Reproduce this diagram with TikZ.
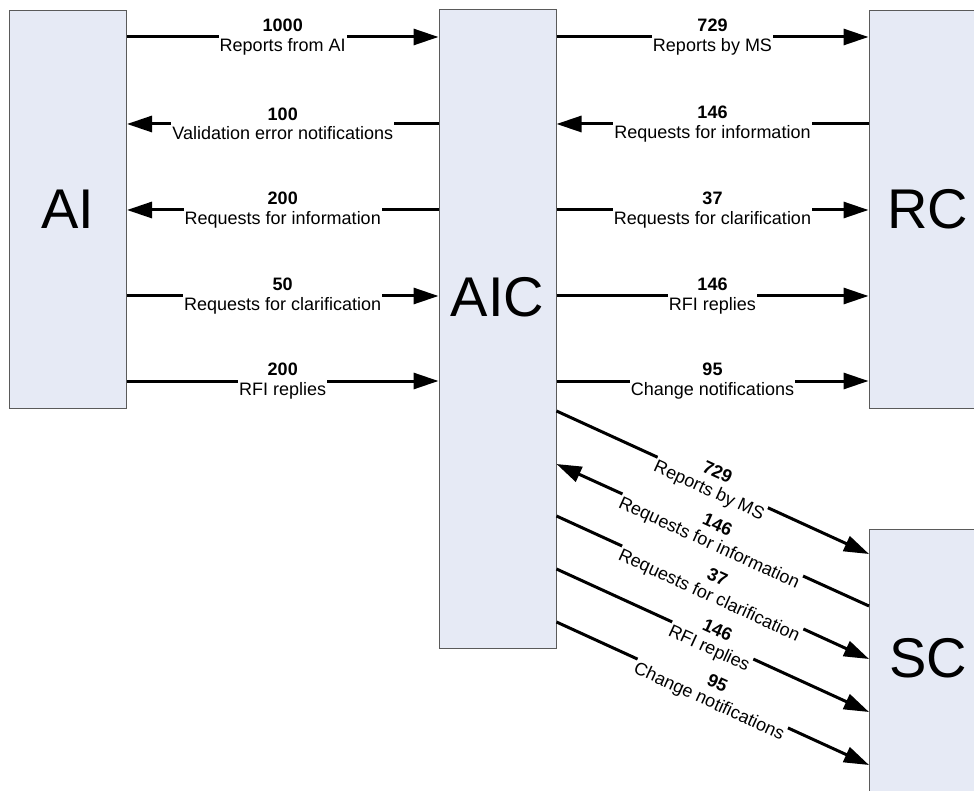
\documentclass[tikz,border=0pt]{standalone}
\usepackage{fontspec}
\setmainfont{Liberation Sans}
\usetikzlibrary{arrows.meta}
\definecolor{boxfill}{RGB}{230,234,245}
\definecolor{boxline}{RGB}{90,90,90}
\begin{document}
\begin{tikzpicture}[x=1pt,y=-1pt,
  box/.style={draw=boxline,fill=boxfill,line width=1pt,inner sep=0pt,minimum width=117pt},
  big/.style={font=\fontsize{56}{60}\selectfont},
  arr/.style={line width=3pt,-{Triangle[length=25pt,width=16pt]}},
  lbl/.style={fill=white,inner xsep=1pt,inner ysep=0pt,align=center,font=\fontsize{18}{19.5}\selectfont}]
\useasboundingbox (0,0) rectangle (974,791);
\node[box,minimum height=398pt] (ai) at (68,209.5) {};
\node[box,minimum height=638pt] (aic) at (497.5,329) {};
\node[box,minimum height=398pt] (rc) at (927.5,209.5) {};
\node[box,minimum height=300pt,anchor=north west] (sc) at (869,529) {};
\node[big] (aitxt) at (ai) {AI};
\node[big] (aictxt) at ([yshift=32pt]aic.center) {AIC};
\node[big] (rctxt) at (rc) {RC};
\node[big] (sctxt) at ([yshift=-129pt]sc.north) {SC};
\foreach \sa/\ya/\ea/\yb/\num/\txt in {
  ai.east/37/aic.west/37/1000/Reports from AI,
  aic.west/124/ai.east/124/100/Validation error notifications,
  aic.west/210/ai.east/210/200/Requests for information,
  ai.east/296/aic.west/296/50/Requests for clarification,
  ai.east/381/aic.west/381/200/RFI replies,
  aic.east/37/rc.west/37/729/Reports by MS,
  rc.west/124/aic.east/124/146/Requests for information,
  aic.east/210/rc.west/210/37/Requests for clarification,
  aic.east/296/rc.west/296/146/RFI replies,
  aic.east/381/rc.west/381/95/Change notifications,
  aic.east/411/sc.west/554/729/Reports by MS,
  sc.west/606/aic.east/464/146/Requests for information,
  aic.east/516/sc.west/659/37/Requests for clarification,
  aic.east/569/sc.west/712/146/RFI replies,
  aic.east/622/sc.west/765/95/Change notifications}
  \draw[arr] (\sa |- 0,\ya) -- node[lbl,sloped]{\textbf{\num}\\\txt} (\ea |- 0,\yb);
\end{tikzpicture}
\end{document}
